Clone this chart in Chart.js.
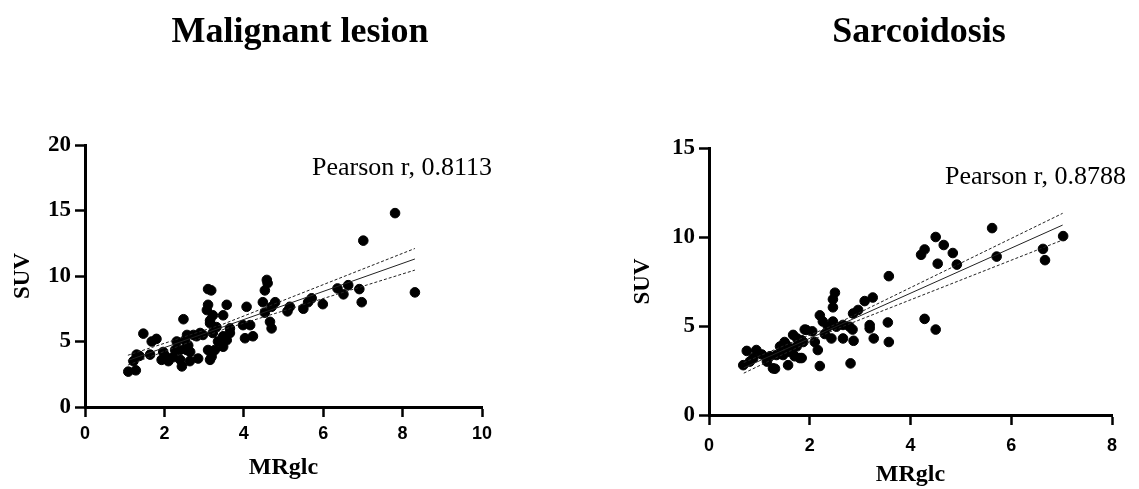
<!DOCTYPE html>
<html>
<head>
<meta charset="utf-8">
<script src="https://cdn.jsdelivr.net/npm/chart.js@4"></script>
<style>
  body { margin: 0; background: #fff; }
  #wrap { position: relative; width: 1139px; height: 489px; overflow: hidden; }
  canvas { position: absolute; top: 0; }
  .ttl {
    position: absolute; top: 9px; width: 400px; text-align: center;
    font: bold 36px "Liberation Serif", "Times New Roman", serif; color: #000;
  }
</style>
</head>
<body>
<div id="wrap">
  <canvas id="malChart" width="560" height="489" style="left:0px"></canvas>
  <canvas id="sarChart" width="559" height="489" style="left:580px"></canvas>
  <div class="ttl" style="left:100px">Malignant lesion</div>
  <div class="ttl" style="left:719px">Sarcoidosis</div>
</div>
<script>
/* MALIGNANT LESION DATA */
const malX = [1.09, 1.28, 1.22, 1.37, 1.47, 1.68, 1.8, 1.64, 1.93, 2.02, 2.1, 2.22, 2.31, 2.44, 2.48, 2.52,
  2.56, 2.64, 2.85, 2.81, 2.97, 3.1, 3.1, 3.07, 3.15, 3.1, 3.15, 2.39, 2.6, 3.18, 4.58, 4.6, 4.53, 3.57,
  4.07, 4.48, 4.7, 4.79, 5.16, 5.1, 5.5, 5.62, 3.22, 3.48, 3.15, 3.31, 3.65, 3.98, 4.16, 4.53, 4.66, 4.7,
  3.22, 3.48, 3.65, 3.35, 3.57, 4.03, 4.23, 3.48, 3.27, 3.19, 7.81, 7.01, 8.31, 6.91, 6.97, 6.51, 6.63,
  6.36, 5.99, 5.71, 1.3, 1.97, 2.27, 2.4, 2.57, 2.73, 2.9, 2.57, 2.65];
const malY = [2.7, 2.8, 3.5, 3.9, 5.6, 5.0, 5.2, 4.0, 3.6, 3.9, 3.5, 3.8, 5.0, 3.1, 6.7, 5.1,
  4.35, 3.5, 3.7, 5.4, 5.5, 9.0, 7.8, 7.4, 6.6, 4.35, 3.6, 4.35, 4.7, 8.9, 9.7, 9.45, 8.9, 7.8,
  7.65, 8.0, 7.65, 8.0, 7.65, 7.3, 7.5, 8.0, 7.0, 7.0, 6.4, 6.1, 6.0, 6.25, 6.25, 7.2, 6.5, 6.0,
  5.65, 5.4, 5.65, 5.0, 5.1, 5.25, 5.4, 4.6, 4.35, 3.85, 14.8, 12.7, 8.75, 9.0, 8.0, 8.6, 9.3,
  9.05, 7.85, 8.3, 4.0, 4.2, 4.35, 3.6, 5.5, 5.5, 5.65, 4.6, 4.2];
const malFitX = [1.08, 3.5, 8.31];
const malFit = [3.55, 6.14, 11.3];
const malUpper = [3.95, 6.35, 12.1];
const malLower = [3.2, 5.93, 10.45];
const malXTicks = [0, 2, 4, 6, 8, 10];
const malYTicks = [0, 5, 10, 15, 20];

/* SARCOIDOSIS DATA */
const sarX = [5.62, 4.5, 4.66, 4.28, 4.21, 4.84, 4.54, 4.92, 5.71, 6.63, 6.67, 7.03, 4.28, 4.5, 3.57,
  3.25, 3.09, 2.96, 2.86, 3.19, 3.19, 3.55, 2.87, 3.27, 3.57, 2.81, 2.5, 2.46, 2.46, 2.2, 2.26, 2.46,
  2.36, 1.93, 2.66, 2.79, 1.84, 2.1, 2.16, 2.43, 2.66, 1.84, 2.2, 2.53, 0.75, 0.94, 0.68, 0.81, 0.88,
  1.21, 1.31, 1.41, 1.5, 1.57, 1.67, 1.6, 1.74, 1.8, 1.87, 1.9, 1.34, 1.47, 1.7, 1.27, 2.85, 1.55,
  1.65, 1.75, 1.15, 1.05, 2.3, 2.05];
const sarY = [10.5, 10.0, 9.55, 9.3, 9.0, 9.1, 8.5, 8.45, 8.9, 9.33, 8.7, 10.05, 5.4, 4.8, 7.8,
  6.6, 6.4, 5.9, 5.7, 5.05, 4.87, 5.2, 4.17, 4.3, 4.1, 2.9, 6.87, 6.5, 6.05, 5.6, 5.25, 5.25,
  4.96, 4.78, 5.06, 4.96, 4.2, 4.1, 3.65, 4.3, 4.3, 3.2, 2.75, 4.96, 3.6, 3.65, 2.8, 3.0, 3.2,
  3.3, 2.6, 3.85, 4.1, 2.8, 4.5, 3.55, 3.85, 3.2, 4.1, 4.8, 3.37, 3.37, 3.3, 2.62, 4.8, 3.9,
  3.7, 4.3, 3.0, 3.4, 4.55, 4.7];
const sarFitX = [0.69, 2.5, 7.02];
const sarFit = [2.65, 4.94, 10.67];
const sarUpper = [2.95, 5.08, 11.33];
const sarLower = [2.35, 4.8, 9.83];
const sarXTicks = [0, 2, 4, 6, 8];
const sarYTicks = [0, 5, 10, 15];

const SERIF = '"Liberation Serif", "Times New Roman", serif';
const SANS = '"Liberation Sans", Arial, sans-serif';

const zip = (xs, ys) => xs.map((x, i) => ({ x: x, y: ys[i] }));

/* draws the Pearson r note */
const notePlugin = {
  id: "note",
  afterDraw(chart, args, opts) {
    const ctx = chart.ctx;
    ctx.save();
    ctx.font = "26px " + SERIF;
    ctx.fillStyle = "#000";
    ctx.textBaseline = "alphabetic";
    ctx.fillText(opts.text, opts.x, opts.y);
    ctx.restore();
  }
};

function lineSet(xs, ys, dashed) {
  return {
    data: zip(xs, ys),
    showLine: true,
    borderColor: "#222",
    borderWidth: 1,
    borderDash: dashed ? [3, 2] : [],
    pointRadius: 0,
    fill: false
  };
}

function makeChart(id, cfg) {
  return new Chart(document.getElementById(id), {
    type: "scatter",
    data: {
      datasets: [
        lineSet(cfg.fitX, cfg.upper, true),
        lineSet(cfg.fitX, cfg.fit, false),
        lineSet(cfg.fitX, cfg.lower, true),
        {
          data: zip(cfg.xs, cfg.ys),
          backgroundColor: "#000",
          borderColor: "#000",
          pointRadius: 4.8,
          pointHoverRadius: 4.8
        }
      ]
    },
    plugins: [notePlugin],
    options: {
      responsive: false,
      animation: false,
      events: [],
      layout: { padding: cfg.padding },
      plugins: {
        legend: { display: false },
        tooltip: { enabled: false },
        note: cfg.note
      },
      scales: {
        x: {
          type: "linear",
          min: cfg.xTicks[0],
          max: cfg.xTicks[cfg.xTicks.length - 1],
          afterBuildTicks: s => { s.ticks = cfg.xTicks.map(v => ({ value: v })); },
          afterFit: s => { s.height = cfg.xHeight; },
          border: { display: true, color: "#000", width: 3 },
          grid: { drawOnChartArea: false, drawTicks: true, tickLength: 10, tickWidth: 2.5, tickColor: "#000" },
          ticks: { color: "#000", padding: cfg.xTickPad, font: { family: SANS, size: 18, weight: "bold" } },
          title: {
            display: true, text: "MRglc", color: "#000",
            font: { family: SERIF, size: 24, weight: "bold" },
            padding: { top: 0, bottom: cfg.xTitlePad }
          }
        },
        y: {
          type: "linear",
          min: cfg.yTicks[0],
          max: cfg.yTicks[cfg.yTicks.length - 1],
          afterBuildTicks: s => { s.ticks = cfg.yTicks.map(v => ({ value: v })); },
          afterFit: s => { s.width = cfg.yWidth; },
          border: { display: true, color: "#000", width: 3 },
          grid: { drawOnChartArea: false, drawTicks: true, tickLength: 10, tickWidth: 2.5, tickColor: "#000" },
          ticks: { color: "#000", padding: 4, font: { family: SERIF, size: 23, weight: "bold" } },
          title: {
            display: true, text: "SUV", color: "#000",
            font: { family: SERIF, size: 23, weight: "bold" },
            padding: { top: cfg.yTitlePad, bottom: 0 }
          }
        }
      }
    }
  });
}

makeChart("malChart", {
  xs: malX, ys: malY,
  fitX: malFitX, fit: malFit, upper: malUpper, lower: malLower,
  xTicks: malXTicks, yTicks: malYTicks,
  padding: { top: 145, right: 78, left: 0, bottom: 0 },
  yWidth: 85, xHeight: 82,
  xTickPad: 6, xTitlePad: 7, yTitlePad: 9,
  note: { text: "Pearson r, 0.8113", x: 312, y: 175 }
});

makeChart("sarChart", {
  xs: sarX, ys: sarY,
  fitX: sarFitX, fit: sarFit, upper: sarUpper, lower: sarLower,
  xTicks: sarXTicks, yTicks: sarYTicks,
  padding: { top: 148, right: 27, left: 0, bottom: 0 },
  yWidth: 129, xHeight: 74,
  xTickPad: 10, xTitlePad: 0, yTitlePad: 49,
  note: { text: "Pearson r, 0.8788", x: 945 - 580, y: 184 }
});
</script>
</body>
</html>
